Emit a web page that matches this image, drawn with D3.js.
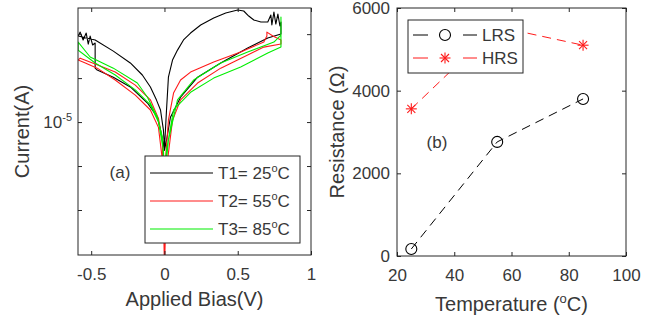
<!DOCTYPE html>
<html>
<head>
<meta charset="utf-8">
<style>
  body { margin: 0; background: #fff; }
  svg { display: block; font-family: "Liberation Sans", Arial, sans-serif; }
</style>
</head>
<body>
<svg id="fig" width="662" height="320"></svg>
<script src="https://cdnjs.cloudflare.com/ajax/libs/d3/7.8.5/d3.min.js"></script>
<script>
// ---- panel (a): I-V sweeps, bias (V) and current (A)
var biasT1 = [0, 0.014, 0.027, 0.055, 0.089, 0.13, 0.178, 0.247, 0.336, 0.418,
  0.5, 0.541, 0.575, 0.61, 0.658, 0.705, 0.726, 0.733, 0.747, 0.76,
  0.774, 0.788, 0.795, 0.795, 0.705, 0.568, 0.384, 0.226, 0.11, 0.041,
  0.014, 0, -0.027, -0.048, -0.116, -0.233, -0.349, -0.459, -0.473, -0.473,
  -0.49, -0.507, -0.52, -0.534, -0.555, -0.575, -0.589, -0.473, -0.349, -0.233,
  -0.151, -0.096, -0.055, -0.027, -0.007, 0];
var currT1 = [6.6e-6, 1.21e-5, 2.03e-5, 2.66e-5, 3.11e-5, 3.65e-5, 4.07e-5, 4.62e-5, 5.16e-5, 5.58e-5,
  5.85e-5, 5.76e-5, 5.32e-5, 5.0e-5, 4.84e-5, 4.84e-5, 5.41e-5, 4.62e-5, 5.67e-5, 4.69e-5,
  5.49e-5, 4.55e-5, 4.84e-5, 4.01e-5, 3.76e-5, 3.21e-5, 2.54e-5, 2.03e-5, 1.48e-5, 1.08e-5,
  7.5e-6, 6.4e-6, 8.8e-6, 1.08e-5, 1.35e-5, 1.74e-5, 2.03e-5, 2.27e-5, 2.34e-5, 3.48e-5,
  3.37e-5, 3.88e-5, 3.42e-5, 4.07e-5, 3.65e-5, 4.13e-5, 3.88e-5, 3.65e-5, 3.06e-5, 2.54e-5,
  2.10e-5, 1.74e-5, 1.42e-5, 1.21e-5, 8.8e-6, 6.6e-6];

var biasT2 = [0, 0.007, 0.027, 0.062, 0.11, 0.178, 0.336, 0.52, 0.678, 0.699,
  0.699, 0.74, 0.795, 0.795, 0.678, 0.568, 0.384, 0.226, 0.11, 0.055,
  0.021, 0, -0.014, -0.041, -0.096, -0.199, -0.336, -0.459, -0.54, -0.589,
  -0.575, -0.473, -0.336, -0.199, -0.096, -0.041, -0.014, 0];
var currT2 = [1e-6, 5.49e-6, 1.03e-5, 1.58e-5, 1.94e-5, 2.20e-5, 2.58e-5, 3.02e-5, 3.53e-5, 3.88e-5,
  4.13e-5, 3.88e-5, 3.65e-5, 3.42e-5, 3.26e-5, 2.88e-5, 2.34e-5, 1.85e-5, 1.42e-5, 1.03e-5,
  5.49e-6, 1e-6, 5.49e-6, 9.2e-6, 1.21e-5, 1.53e-5, 1.94e-5, 2.34e-5, 2.54e-5, 2.66e-5,
  2.74e-5, 2.50e-5, 2.20e-5, 1.79e-5, 1.42e-5, 1.06e-5, 7.5e-6, 1e-6];

var biasT3 = [0, 0.027, 0.089, 0.199, 0.384, 0.568, 0.747, 0.795, 0.795, 0.795,
  0.705, 0.52, 0.336, 0.178, 0.062, 0.014, 0, -0.007, -0.041, -0.096,
  -0.199, -0.336, -0.473, -0.589, -0.589, -0.507, -0.349, -0.185, -0.116, -0.048,
  -0.014, 0];
var currT3 = [4e-6, 7.5e-6, 1.42e-5, 1.94e-5, 2.54e-5, 3.02e-5, 3.53e-5, 3.94e-5, 5.24e-5, 3.26e-5,
  2.97e-5, 2.38e-5, 2.0e-5, 1.60e-5, 1.21e-5, 6.43e-6, 4e-6, 6.43e-6, 1.0e-5, 1.31e-5,
  1.66e-5, 2.10e-5, 2.54e-5, 3.11e-5, 3.53e-5, 2.79e-5, 2.34e-5, 1.85e-5, 1.48e-5, 1.08e-5,
  7.9e-6, 4e-6];

var sweepNames = ["T1= 25", "T2= 55", "T3= 85"];
var biasLim = [-0.59, 1];
var currLim = [1.23e-6, 6.04e-5];
var biasTicks = [-0.5, 0, 0.5, 1];
var currTicks = [2.5e-6, 5e-6, 1e-5, 2e-5, 4e-5];

// ---- panel (b): resistance vs temperature
var temps = [25, 55, 85];
var lrs = [170, 2760, 3800];
var hrs = [3560, 5550, 5100];
var tempLim = [20, 100];
var resLim = [0, 6000];
var tempTicks = [20, 40, 60, 80, 100];
var resTicks = [0, 2000, 4000, 6000];

var ink = "#262626";
var txt = "#383838";
var svg = d3.select("#fig");

function styleAxis(g) {
  g.select(".domain").remove();
  g.attr("font-family", null).attr("font-size", 17);
  g.selectAll("line").attr("stroke", ink);
  g.selectAll("text").attr("fill", txt);
}

function frame(g, x, y, xt, yt, log) {
  var x0 = x.range()[0], x1 = x.range()[1], y0 = y.range()[0], y1 = y.range()[1];
  var ax = d3.axisBottom(x).tickValues(xt).tickSizeInner(-4).tickSizeOuter(0).tickPadding(13)
    .tickFormat(function(d) { return String(d); });
  g.append("g").attr("transform", "translate(0," + y0 + ")").call(ax).call(styleAxis);
  g.append("g").attr("transform", "translate(0," + y1 + ")")
    .call(d3.axisTop(x).tickValues(xt).tickSizeInner(-4).tickSizeOuter(0).tickFormat(""))
    .call(styleAxis);
  var ay = d3.axisLeft(y).tickValues(yt).tickSizeInner(-4).tickSizeOuter(0).tickPadding(7)
    .tickFormat(log ? "" : function(d) { return String(d); });
  g.append("g").attr("transform", "translate(" + x0 + ",0)").call(ay).call(styleAxis);
  g.append("g").attr("transform", "translate(" + x1 + ",0)")
    .call(d3.axisRight(y).tickValues(yt).tickSizeInner(-4).tickSizeOuter(0).tickFormat(""))
    .call(styleAxis);
  g.append("rect").attr("x", x0).attr("y", y1).attr("width", x1 - x0).attr("height", y0 - y1)
    .attr("fill", "none").attr("stroke", ink).attr("stroke-width", 1);
}

// ================= panel (a)
var xa = d3.scaleLinear().domain(biasLim).range([78, 311]);
var ya = d3.scaleLog().domain(currLim).range([255, 8]);
var ga = svg.append("g");

ga.append("clipPath").attr("id", "clipA").append("rect")
  .attr("x", 78).attr("y", 8).attr("width", 233).attr("height", 247);

var sweeps = [
  { name: sweepNames[0], color: "#000000", v: biasT1, i: currT1 },
  { name: sweepNames[1], color: "#ff1a1a", v: biasT2, i: currT2 },
  { name: sweepNames[2], color: "#00ee00", v: biasT3, i: currT3 }
];

var lineA = d3.line()
  .x(function(d) { return xa(d[0]); })
  .y(function(d) { return ya(d[1]); });

ga.append("g").attr("clip-path", "url(#clipA)")
  .selectAll("path").data(sweeps).enter().append("path")
  .attr("d", function(s) { return lineA(s.v.map(function(v, k) { return [v, s.i[k]]; })); })
  .attr("fill", "none")
  .attr("stroke", function(s) { return s.color; })
  .attr("stroke-width", 1.1)
  .attr("stroke-linejoin", "round");

frame(ga, xa, ya, biasTicks, currTicks, true);

// only 10^-5 is labelled on the log axis
var lab = ga.append("text").attr("x", 72).attr("y", ya(1e-5) + 6)
  .attr("text-anchor", "end").attr("font-size", 17).attr("fill", txt);
lab.append("tspan").text("10");
lab.append("tspan").attr("dy", -7).attr("font-size", 11).text("-5");

ga.append("text").attr("x", 194.5).attr("y", 306).attr("text-anchor", "middle")
  .attr("font-size", 20).attr("fill", txt).text("Applied Bias(V)");
ga.append("text").attr("transform", "translate(29,131.5) rotate(-90)")
  .attr("text-anchor", "middle").attr("font-size", 20).attr("fill", txt).text("Current(A)");
ga.append("text").attr("x", 120).attr("y", 178).attr("text-anchor", "middle")
  .attr("font-size", 17).attr("fill", txt).text("(a)");

var legA = ga.append("g");
legA.append("rect").attr("x", 145).attr("y", 156).attr("width", 155).attr("height", 87)
  .attr("fill", "#fff").attr("stroke", ink);
var rowA = legA.selectAll("g.row").data(sweeps).enter().append("g")
  .attr("transform", function(d, k) { return "translate(0," + [173, 201, 229][k] + ")"; });
rowA.append("line").attr("x1", 150).attr("x2", 213)
  .attr("stroke", function(d) { return d.color; }).attr("stroke-width", 1.1);
var tA = rowA.append("text").attr("x", 218).attr("y", 6).attr("font-size", 17).attr("fill", txt);
tA.append("tspan").text(function(d) { return d.name; });
tA.append("tspan").attr("dy", -7).attr("font-size", 11).text("o");
tA.append("tspan").attr("dy", 7).text("C");

// ================= panel (b)
var xb = d3.scaleLinear().domain(tempLim).range([397, 626]);
var yb = d3.scaleLinear().domain(resLim).range([256, 8]);
var gb = svg.append("g");

frame(gb, xb, yb, tempTicks, resTicks, false);

var lineB = d3.line()
  .x(function(d) { return xb(d[0]); })
  .y(function(d) { return yb(d[1]); });

var lrsPts = temps.map(function(t, k) { return [t, lrs[k]]; });
var hrsPts = temps.map(function(t, k) { return [t, hrs[k]]; });

gb.append("path").attr("d", lineB(lrsPts)).attr("fill", "none")
  .attr("stroke", "#000").attr("stroke-dasharray", "9,6");
gb.append("path").attr("d", lineB(hrsPts)).attr("fill", "none")
  .attr("stroke", "#ff1a1a").attr("stroke-dasharray", "9,6");

function circleMark(g, cx, cy) {
  g.append("circle").attr("cx", cx).attr("cy", cy).attr("r", 5.5)
    .attr("fill", "none").attr("stroke", "#000").attr("stroke-width", 1.1);
}
function starMark(g, cx, cy) {
  var r = 5.5, q = 4;
  [[-r, 0, r, 0], [0, -r, 0, r], [-q, -q, q, q], [-q, q, q, -q]].forEach(function(s) {
    g.append("line").attr("x1", cx + s[0]).attr("y1", cy + s[1])
      .attr("x2", cx + s[2]).attr("y2", cy + s[3])
      .attr("stroke", "#ff1a1a").attr("stroke-width", 1.1);
  });
}
lrsPts.forEach(function(p) { circleMark(gb, xb(p[0]), yb(p[1])); });
hrsPts.forEach(function(p) { starMark(gb, xb(p[0]), yb(p[1])); });

gb.append("text").attr("x", 511.5).attr("y", 311).attr("text-anchor", "middle")
  .attr("font-size", 20).attr("fill", txt)
  .call(function(t) {
    t.append("tspan").text("Temperature (");
    t.append("tspan").attr("dy", -8).attr("font-size", 13).text("o");
    t.append("tspan").attr("dy", 8).text("C)");
  });
gb.append("text").attr("transform", "translate(344,132) rotate(-90)")
  .attr("text-anchor", "middle").attr("font-size", 20).attr("fill", txt)
  .text("Resistance (\u03A9)");
gb.append("text").attr("x", 437).attr("y", 148).attr("text-anchor", "middle")
  .attr("font-size", 17).attr("fill", txt).text("(b)");

var legB = gb.append("g");
legB.append("rect").attr("x", 408).attr("y", 20).attr("width", 115).attr("height", 53)
  .attr("fill", "#fff").attr("stroke", ink);
[["LRS", "#000", 35], ["HRS", "#ff1a1a", 58]].forEach(function(e, k) {
  var yy = e[2];
  legB.append("line").attr("x1", 413).attr("x2", 428).attr("y1", yy).attr("y2", yy).attr("stroke", e[1]);
  legB.append("line").attr("x1", 463).attr("x2", 477).attr("y1", yy).attr("y2", yy).attr("stroke", e[1]);
  if (k === 0) circleMark(legB, 445, yy); else starMark(legB, 445, yy);
  legB.append("text").attr("x", 482).attr("y", yy + 6).attr("font-size", 17).attr("fill", txt).text(e[0]);
});
</script>
</body>
</html>
